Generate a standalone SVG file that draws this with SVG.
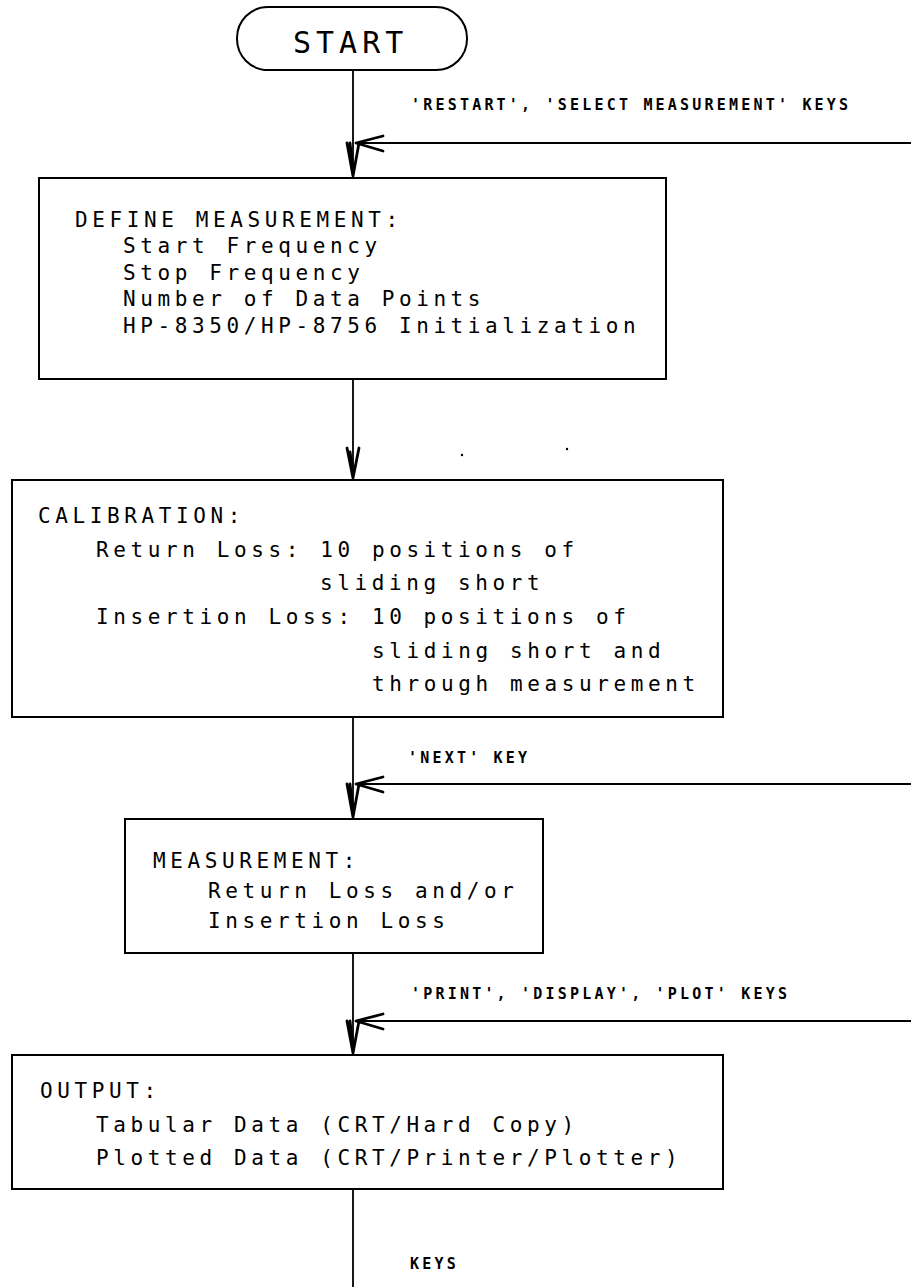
<svg xmlns="http://www.w3.org/2000/svg" width="911" height="1287" viewBox="0 0 911 1287">
<style>
.box{fill:none;stroke:#000;stroke-width:2}
.ln{fill:none;stroke:#000;stroke-width:1.8}
.ah{fill:none;stroke:#000;stroke-width:2.8;stroke-linecap:round;stroke-linejoin:round}
.t{font-family:"DejaVu Sans Mono","Liberation Mono",monospace;font-size:21px;letter-spacing:4.6px;fill:#000}
.lb{font-family:"DejaVu Sans Mono","Liberation Mono",monospace;font-size:15px;font-weight:bold;letter-spacing:3.2px;fill:#000}
.st{font-family:"DejaVu Sans Mono","Liberation Mono",monospace;font-size:30px;letter-spacing:5px;fill:#000}
</style>
<rect width="911" height="1287" fill="#fff"/>
<g id="connectors">
<path class="ln" d="M353 70V178M353 379V480M353 717V819M353 953V1055M353 1189V1287"/>
<path class="ln" d="M355 143H911M355 784H911M355 1021H911"/>
<path class="ah" d="M383 136L356 143L383 151M347 143L353 176L359 143M350 143L353 170"/>
<path class="ah" d="M347 448L353 478L359 448M350 452L353 472"/>
<path class="ah" d="M383 777L356 784L383 792M347 784L353 817L359 784M350 784L353 811"/>
<path class="ah" d="M383 1014L356 1021L383 1029M347 1021L353 1053L359 1021M350 1021L353 1047"/>
<text class="lb" x="411" y="110">'RESTART', 'SELECT MEASUREMENT' KEYS</text>
<text class="lb" x="408" y="763">'NEXT' KEY</text>
<text class="lb" x="411" y="999">'PRINT', 'DISPLAY', 'PLOT' KEYS</text>
<text class="lb" x="410" y="1269">KEYS</text>
</g>
<g id="start">
<rect class="box" x="237" y="7" width="230" height="63" rx="31"/>
<text class="st" x="293" y="53">START</text>
</g>
<g id="define">
<rect class="box" x="39" y="178" width="627" height="201"/>
<text class="t" x="75" y="227">DEFINE MEASUREMENT:</text>
<text class="t" x="123" y="253">Start Frequency</text>
<text class="t" x="123" y="280">Stop Frequency</text>
<text class="t" x="123" y="306">Number of Data Points</text>
<text class="t" x="123" y="333">HP-8350/HP-8756 Initialization</text>
</g>
<g id="calibration">
<rect class="box" x="12" y="480" width="711" height="237"/>
<text class="t" x="38" y="523">CALIBRATION:</text>
<text class="t" x="96" y="557">Return Loss: 10 positions of</text>
<text class="t" x="320" y="590">sliding short</text>
<text class="t" x="96" y="624">Insertion Loss: 10 positions of</text>
<text class="t" x="372" y="658">sliding short and</text>
<text class="t" x="372" y="691">through measurement</text>
</g>
<g id="measurement">
<rect class="box" x="125" y="819" width="418" height="134"/>
<text class="t" x="153" y="868">MEASUREMENT:</text>
<text class="t" x="208" y="898">Return Loss and/or</text>
<text class="t" x="208" y="928">Insertion Loss</text>
</g>
<g id="output">
<rect class="box" x="12" y="1055" width="711" height="134"/>
<text class="t" x="40" y="1098">OUTPUT:</text>
<text class="t" x="96" y="1132">Tabular Data (CRT/Hard Copy)</text>
<text class="t" x="96" y="1165">Plotted Data (CRT/Printer/Plotter)</text>
</g>
<circle cx="462" cy="455" r="1.2" fill="#000"/>
<circle cx="567" cy="449" r="1.2" fill="#000"/>
</svg>
